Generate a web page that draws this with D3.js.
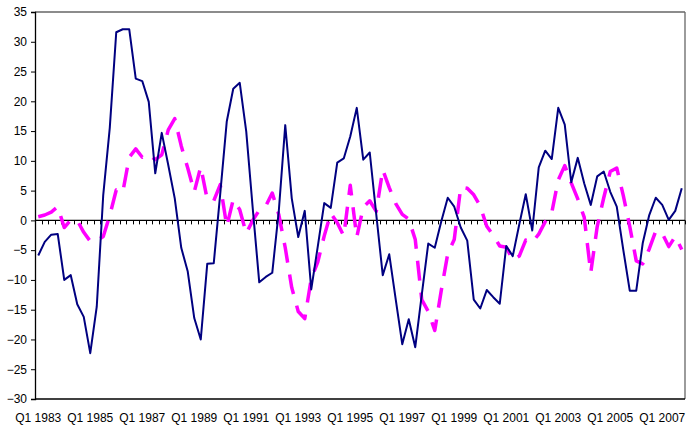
<!DOCTYPE html>
<html>
<head>
<meta charset="utf-8">
<script src="https://cdn.jsdelivr.net/npm/d3@7"></script>
<style>
  html, body { margin: 0; padding: 0; background: #fff; }
  svg { display: block; }
  text { font-family: Arial, "Liberation Sans", sans-serif; font-size: 12px; fill: #000; }
</style>
</head>
<body>
<svg id="chart" width="692" height="427"></svg>
<script>
// ---- data ----
const startYear = 1983, endYear = 2007;
const categories = [];
for (let yr = startYear; yr <= endYear; yr++) for (let q = 1; q <= 4; q++) categories.push("Q" + q + " " + yr);

const seriesSolid = [
  -5.9, -3.6, -2.4, -2.3, -10.0, -9.2, -14.1, -16.2, -22.3, -14.5,
  4.3, 15.5, 31.6, 32.1, 32.1, 23.8, 23.4, 19.9, 7.9, 14.7,
  9.3, 3.7, -4.6, -8.6, -16.4, -20.0, -7.3, -7.2, 4.5, 16.6,
  22.1, 23.1, 14.9, 2.0, -10.4, -9.5, -8.8, 1.5, 16.0, 3.7,
  -2.8, 1.6, -11.6, -4.4, 2.9, 2.1, 9.7, 10.4, 14.1, 18.9,
  10.2, 11.4, 1.0, -9.2, -5.7, -13.3, -20.8, -16.6, -21.3, -12.5,
  -3.9, -4.6, -0.2, 3.8, 2.3, -1.2, -3.4, -13.3, -14.8, -11.7,
  -12.9, -14.0, -4.3, -6.0, -0.7, 4.4, -1.7, 8.9, 11.7, 10.3,
  18.9, 16.1, 6.4, 10.5, 6.2, 2.6, 7.4, 8.2, 4.8, 2.3,
  -4.9, -11.8, -11.8, -3.8, 0.9, 3.8, 2.6, 0.1, 1.6, 5.4
];

const seriesDashed = [
  0.6, 0.9, 1.4, 2.3, -1.2, 0.1, 0.0, -2.0, -3.5, -3.4,
  -2.7, 0.8, 5.1, 4.7, 10.6, 12.0, 10.6, 11.1, 10.2, 11.0,
  15.2, 17.1, 12.5, 8.8, 4.8, 9.0, 3.5, 3.3, 6.0, -1.0,
  3.5, 1.8, -2.2, 0.0, 1.7, 2.4, 4.6, 1.0, -4.6, -11.3,
  -15.3, -16.5, -9.8, -7.0, -2.6, 1.2, -0.4, -2.6, 5.9, -2.8,
  2.2, 3.3, 1.5, 8.5, 5.5, 2.8, 1.0, 0.2, -3.2, -13.3,
  -15.3, -18.5, -11.8, -5.6, -3.2, 5.6, 5.4, 4.3, 2.4, -1.0,
  -2.5, -4.3, -4.5, -6.7, -6.0, -3.3, -3.7, -2.3, -0.2, 1.3,
  6.8, 9.2, 6.3, 3.6, 0.5, -8.8, -1.0, 3.8, 8.2, 8.8,
  4.2, -1.0, -6.8, -7.3, -4.8, -1.8, -2.2, -4.4, -2.7, -4.9
];

const xTickLabels = ["Q1 1983","Q1 1985","Q1 1987","Q1 1989","Q1 1991","Q1 1993","Q1 1995","Q1 1997","Q1 1999","Q1 2001","Q1 2003","Q1 2005","Q1 2007"];
const yTicks = [-30, -25, -20, -15, -10, -5, 0, 5, 10, 15, 20, 25, 30, 35];

// ---- layout ----
const plotLeft = 35, plotRight = 685, plotTop = 12, plotBottom = 399;
const svg = d3.select("#chart");

const x = d3.scaleBand().domain(categories).range([plotLeft, plotRight]).padding(0);
const y = d3.scaleLinear().domain([-30, 35]).range([plotBottom, plotTop]);
const cx = c => x(c) + x.bandwidth() / 2;

// plot area border
svg.append("line").attr("x1", plotLeft).attr("x2", plotRight).attr("y1", plotTop).attr("y2", plotTop)
  .attr("stroke", "#666").attr("stroke-width", 1.3);
svg.append("line").attr("x1", plotRight).attr("x2", plotRight).attr("y1", plotTop).attr("y2", plotBottom)
  .attr("stroke", "#666").attr("stroke-width", 1.3);
svg.append("line").attr("x1", plotLeft).attr("x2", plotRight).attr("y1", plotBottom).attr("y2", plotBottom)
  .attr("stroke", "#000").attr("stroke-width", 1.3);

// y axis
const yAxis = d3.axisLeft(y).tickValues(yTicks).tickSize(4).tickPadding(4).tickFormat(d3.format("d"));
const gy = svg.append("g").attr("transform", `translate(${plotLeft},0)`).call(yAxis);
gy.select(".domain").attr("stroke", "#000").attr("stroke-width", 1.3);
gy.selectAll(".tick line").attr("stroke", "#000");
gy.selectAll("text").style("font-size", "12px").style("font-family", "Arial, 'Liberation Sans', sans-serif");

// zero (category) axis with ticks between categories
const y0 = y(0);
svg.append("line").attr("x1", plotLeft).attr("x2", plotRight).attr("y1", y0).attr("y2", y0)
  .attr("stroke", "#000").attr("stroke-width", 1.3);
const tickXs = categories.map(c => x(c)).concat([x(categories[categories.length - 1]) + x.bandwidth()]);
svg.append("g").selectAll("line").data(tickXs).join("line")
  .attr("x1", d => Math.round(d) + 0.5).attr("x2", d => Math.round(d) + 0.5)
  .attr("y1", y0).attr("y2", y0 + 4).attr("stroke", "#000").attr("stroke-width", 1);

// x labels
svg.append("g").selectAll("text").data(xTickLabels).join("text")
  .attr("x", d => cx(d)).attr("y", 422).attr("text-anchor", "middle").text(d => d);

// lines
const line = d3.line().x((d, i) => cx(categories[i])).y(d => y(d));
svg.append("path").datum(seriesDashed).attr("d", line)
  .attr("fill", "none").attr("stroke", "#FF00FF").attr("stroke-width", 3.5)
  .attr("stroke-dasharray", "20,12").attr("stroke-linejoin", "round");
svg.append("path").datum(seriesSolid).attr("d", line)
  .attr("fill", "none").attr("stroke", "#000080").attr("stroke-width", 2)
  .attr("stroke-linejoin", "round");
</script>
</body>
</html>
